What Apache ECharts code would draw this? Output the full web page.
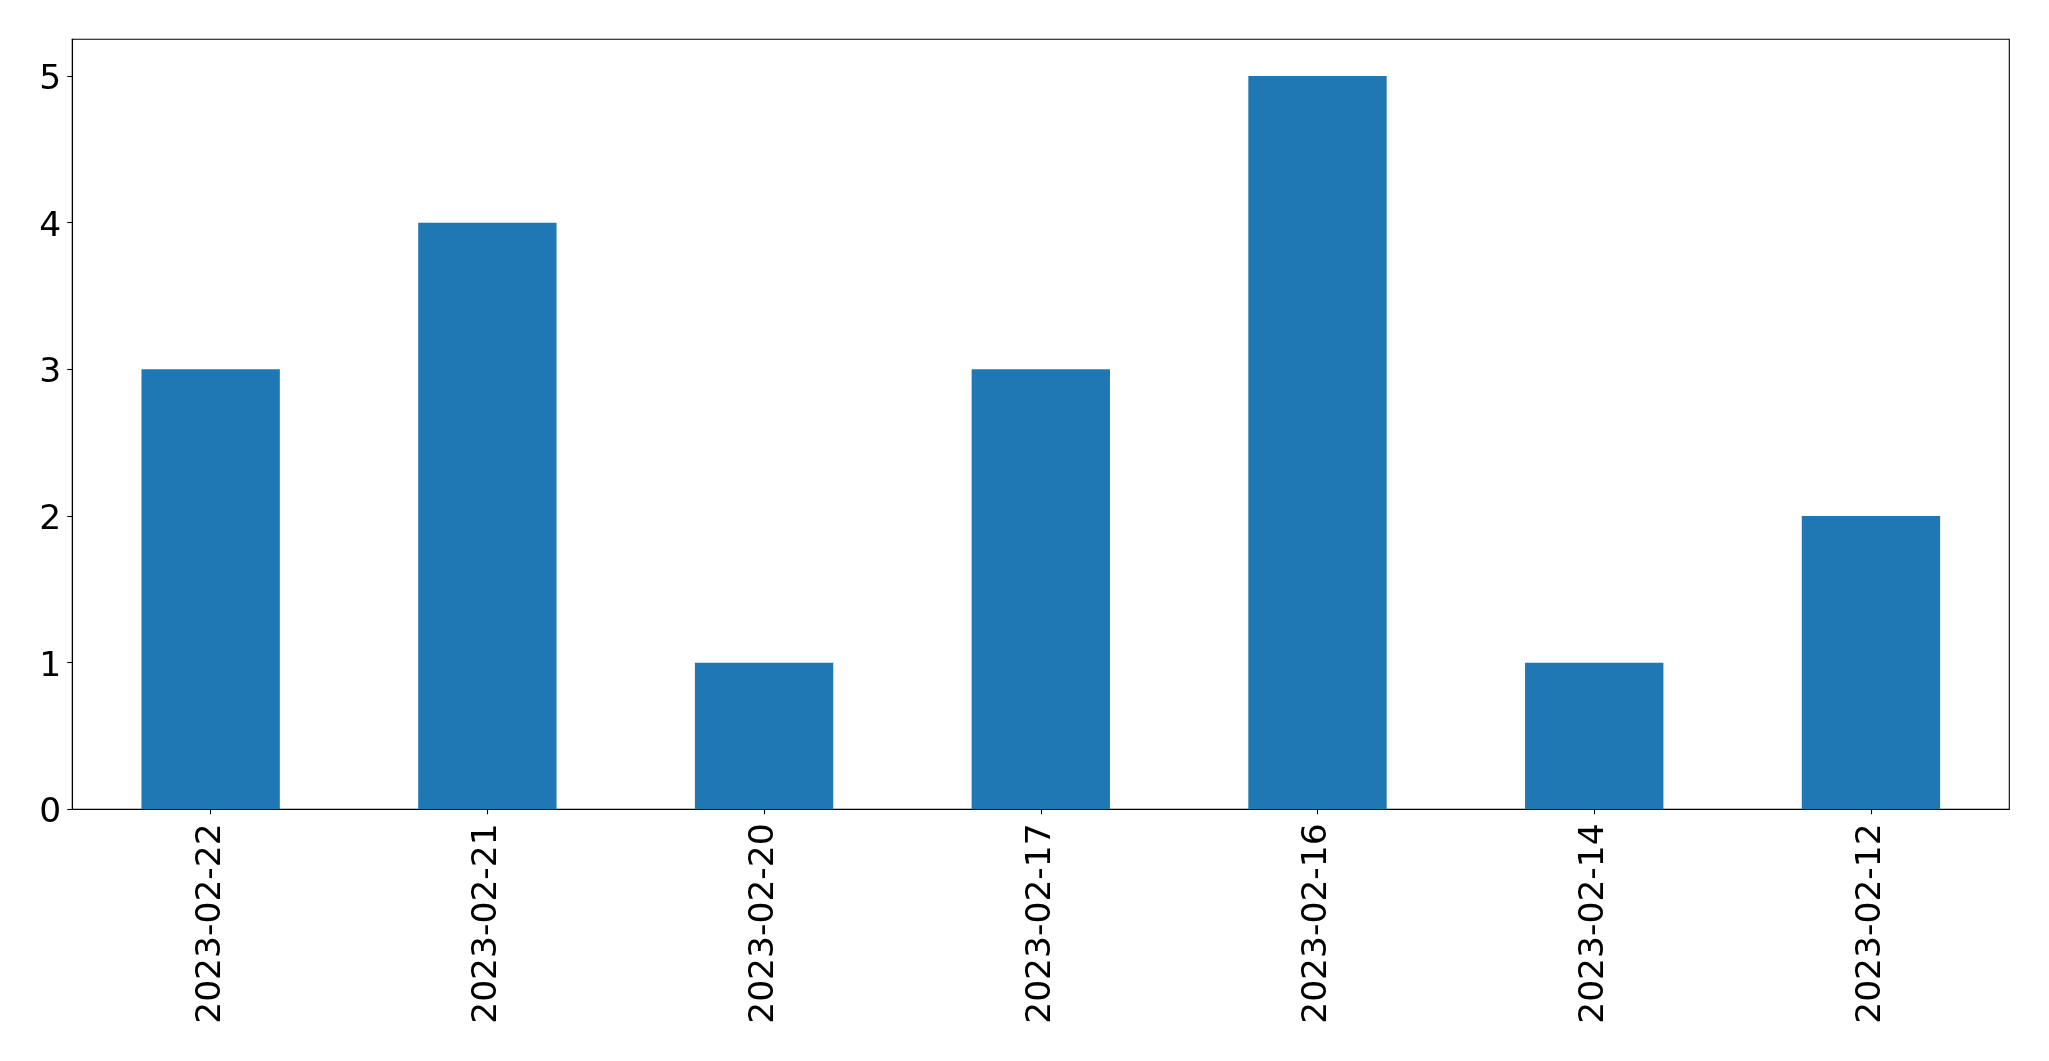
<!DOCTYPE html>
<html>
<head>
<meta charset="utf-8">
<script src="https://cdn.jsdelivr.net/npm/echarts@6/dist/echarts.min.js"></script>
<style>
html,body{margin:0;padding:0;background:#fff;}
#chart{width:2049px;height:1061px;}
</style>
</head>
<body>
<div id="chart"></div>
<script>
const categories = ['2023-02-22','2023-02-21','2023-02-20','2023-02-17','2023-02-16','2023-02-14','2023-02-12'];
const values = [3, 4, 1, 3, 5, 1, 2];
const yTicks = [0, 1, 2, 3, 4, 5];

const chart = echarts.init(document.getElementById('chart'), null, {renderer: 'canvas'});
const font = 'DejaVu Sans';
chart.setOption({
  animation: false,
  backgroundColor: '#ffffff',
  grid: {
    left: 72.3, right: 39.7, top: 39.3, bottom: 251.7,
    show: true, borderColor: '#000', borderWidth: 1.1, backgroundColor: 'transparent'
  },
  xAxis: {
    type: 'category',
    data: categories,
    boundaryGap: true,
    axisLine: {show: true, lineStyle: {color: '#000', width: 1.1}},
    axisTick: {show: true, alignWithLabel: true, length: 5, lineStyle: {color: '#000', width: 1.1}},
    axisLabel: {
      rotate: 90, margin: 14, color: '#000', fontFamily: font, fontSize: 34.5, interval: 0
    },
    splitLine: {show: false}
  },
  yAxis: {
    type: 'value',
    min: 0, max: 5.25, interval: 1,
    axisLine: {show: true, lineStyle: {color: '#000', width: 1.1}},
    axisTick: {show: true, length: 5, lineStyle: {color: '#000', width: 1.1}, customValues: yTicks},
    axisLabel: {color: '#000', fontFamily: font, fontSize: 34.5, margin: 11,
      verticalAlign: 'top', lineHeight: 8, customValues: yTicks},
    splitLine: {show: false}
  },
  series: [{
    type: 'bar',
    data: values,
    barWidth: '50%',
    itemStyle: {color: '#1f77b4'}
  }]
});
</script>
</body>
</html>
